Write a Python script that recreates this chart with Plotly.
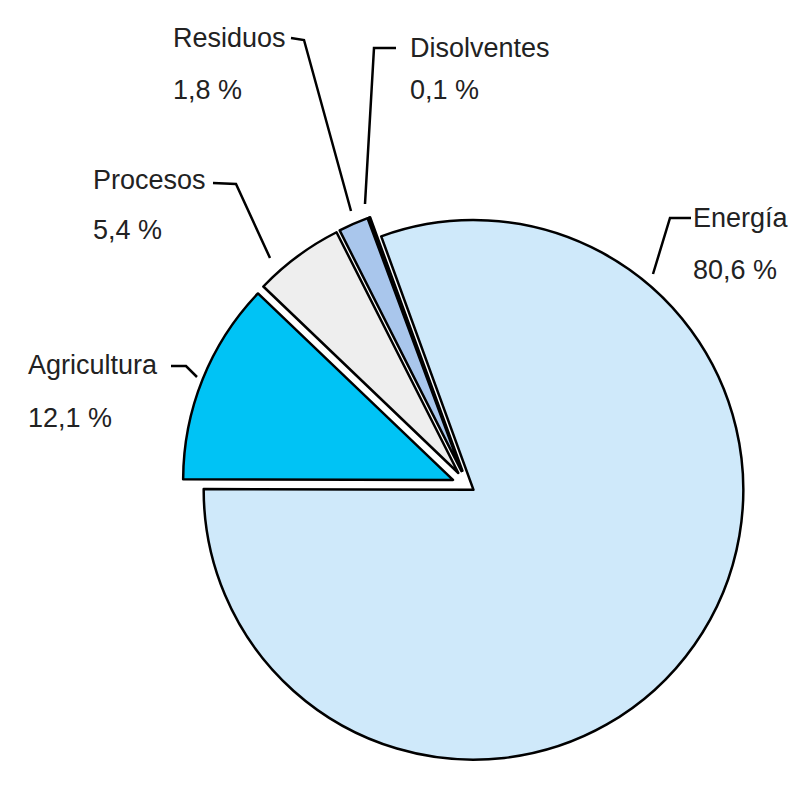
import plotly.graph_objects as go

W, H = 801, 794

# data
sectores = ["Energía", "Agricultura", "Procesos", "Residuos", "Disolventes"]
porcentajes = [80.6, 12.1, 5.4, 1.8, 0.1]
etiquetas = ["80,6 %", "12,1 %", "5,4 %", "1,8 %", "0,1 %"]
colores = ["#cfe9fa", "#00c3f5", "#eeeeee", "#a9c6ec", "#ffffff"]
separacion = [0.025, 0.06, 0.06, 0.06, 0.06]


def px(x, y):
    return x / W, 1 - y / H


fig = go.Figure()
fig.add_trace(go.Pie(
    labels=sectores, values=porcentajes, sort=False, direction="clockwise",
    rotation=-20, pull=separacion, textinfo="none", hoverinfo="label+percent",
    marker=dict(colors=colores, line=dict(color="#000000", width=2.5)),
    domain=dict(x=[0.2172, 0.9313], y=[0.0378, 0.7582]),
    showlegend=False,
))

# label positions (pixels): name centre, value centre, leader path
pos = {
    "Energía": ((683, 210), (683, 262), [(683, 210), (662, 210), (645, 266)]),
    "Agricultura": ((18, 357), (18, 410), [(163, 358), (178, 358), (189, 369)]),
    "Procesos": ((83, 172), (83, 222), [(205, 175), (228, 176), (262, 250)]),
    "Residuos": ((163, 30), (163, 82), [(283, 30), (296, 32), (343, 203)]),
    "Disolventes": ((400, 40), (400, 82), [(388, 40), (366, 40), (357, 196)]),
}

fuente = dict(family="Liberation Sans, Arial, sans-serif", size=27, color="#222222")
for nombre, etq in zip(sectores, etiquetas):
    (nx, ny), (vx, vy), linea = pos[nombre]
    for txt, (tx, ty) in ((nombre, (nx, ny)), (etq, (vx, vy))):
        ax, ay = px(tx, ty)
        fig.add_annotation(x=ax, y=ay, xref="paper", yref="paper", text=txt,
                           showarrow=False, xanchor="left", yanchor="middle", font=fuente)
    pts = [px(a, b) for a, b in linea]
    path = "M " + " L ".join(f"{a},{b}" for a, b in pts)
    fig.add_shape(type="path", path=path, xref="paper", yref="paper",
                  line=dict(color="#000000", width=2.5))

fig.update_layout(
    width=W, height=H, margin=dict(l=0, r=0, t=0, b=0),
    paper_bgcolor="#ffffff", plot_bgcolor="#ffffff",
)

fig.write_html("out.html")
